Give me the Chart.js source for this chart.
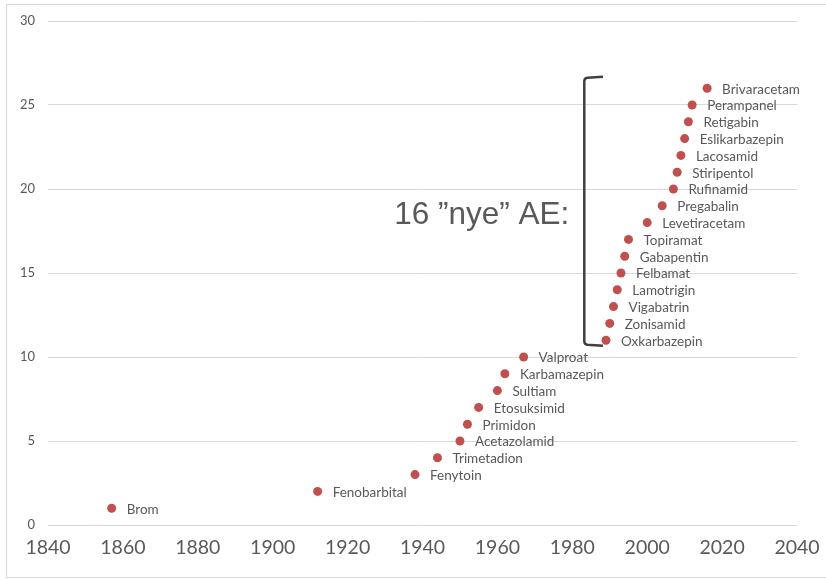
<!DOCTYPE html>
<html>
<head>
<meta charset="utf-8">
<script src="https://cdn.jsdelivr.net/npm/chart.js@4/dist/chart.umd.min.js"></script>
<style>
  html, body { margin: 0; padding: 0; background: #ffffff; }
  #wrap { width: 826px; height: 581px; }
</style>
</head>
<body>
<div id="wrap"><canvas id="c" width="826" height="581"></canvas></div>
<script>
// Antiepileptic drugs by year of introduction
const drugs = ["Brom", "Fenobarbital", "Fenytoin", "Trimetadion", "Acetazolamid", "Primidon",
  "Etosuksimid", "Sultiam", "Karbamazepin", "Valproat", "Oxkarbazepin", "Zonisamid",
  "Vigabatrin", "Lamotrigin", "Felbamat", "Gabapentin", "Topiramat", "Levetiracetam",
  "Pregabalin", "Rufinamid", "Stiripentol", "Lacosamid", "Eslikarbazepin", "Retigabin",
  "Perampanel", "Brivaracetam"];
const years = [1857, 1912, 1938, 1944, 1950, 1952, 1955, 1960, 1962, 1967, 1989, 1990,
  1991, 1992, 1993, 1994, 1995, 2000, 2004, 2007, 2008, 2009, 2010, 2011, 2012, 2016];
const counts = [1, 2, 3, 4, 5, 6, 7, 8, 9, 10, 11, 12, 13, 14, 15, 16, 17, 18, 19, 20,
  21, 22, 23, 24, 25, 26];
const xTicks = [1840, 1860, 1880, 1900, 1920, 1940, 1960, 1980, 2000, 2020, 2040];
const yTicks = [0, 5, 10, 15, 20, 25, 30];

// Bracket around the newer drugs, and its caption
const groupCaption = "16 \u201Dnye\u201D AE:";
const bracket = { x: 1983.2, xEnd: 1988.2, yTop: 26.65, yBottom: 10.7 };
const captionAt = { x: 1955.8, y: 18.45 };

const textColor = "#595959";
const pointColor = "#C0504D";

const frame = {
  id: "frame",
  beforeDraw(chart) {
    const ctx = chart.ctx;
    ctx.save();
    ctx.fillStyle = "#ffffff";
    ctx.fillRect(0, 0, chart.width, chart.height);
    ctx.strokeStyle = "#d9d9d9";
    ctx.lineWidth = 1;
    ctx.strokeRect(6.5, 4.5, 840, 573);
    ctx.restore();
  }
};

const pointNames = {
  id: "pointNames",
  afterDatasetsDraw(chart) {
    const ctx = chart.ctx;
    const meta = chart.getDatasetMeta(0);
    ctx.save();
    ctx.font = "13.5px Lato";
    ctx.fillStyle = textColor;
    ctx.textAlign = "left";
    ctx.textBaseline = "middle";
    meta.data.forEach((el, i) => {
      ctx.fillText(drugs[i], el.x + 15, el.y + 1);
    });
    ctx.restore();
  }
};

const groupBracket = {
  id: "groupBracket",
  afterDatasetsDraw(chart) {
    const xs = chart.scales.x, ys = chart.scales.y;
    const ctx = chart.ctx;
    const x0 = xs.getPixelForValue(bracket.x);
    const x1 = xs.getPixelForValue(bracket.xEnd);
    const y0 = ys.getPixelForValue(bracket.yTop);
    const y1 = ys.getPixelForValue(bracket.yBottom);
    ctx.save();
    ctx.strokeStyle = "#404040";
    ctx.lineWidth = 2.5;
    ctx.lineJoin = "round";
    ctx.beginPath();
    ctx.moveTo(x1, y0 - 0.5);
    ctx.lineTo(x0 + 3, y0 + 0.5);
    ctx.quadraticCurveTo(x0, y0 + 1, x0, y0 + 4);
    ctx.lineTo(x0, y1 - 4);
    ctx.quadraticCurveTo(x0, y1 - 1, x0 + 3, y1 - 0.5);
    ctx.lineTo(x1, y1 + 0.5);
    ctx.stroke();

    ctx.font = "31.5px 'Liberation Sans'";
    ctx.fillStyle = textColor;
    ctx.textAlign = "center";
    ctx.textBaseline = "middle";
    ctx.fillText(groupCaption, xs.getPixelForValue(captionAt.x), ys.getPixelForValue(captionAt.y));
    ctx.restore();
  }
};

new Chart(document.getElementById("c"), {
  type: "scatter",
  data: {
    datasets: [{
      data: years.map((y, i) => ({ x: y, y: counts[i] })),
      backgroundColor: pointColor,
      borderColor: pointColor,
      pointRadius: 4.5,
      pointHoverRadius: 4.5,
      borderWidth: 0
    }]
  },
  options: {
    responsive: false,
    animation: false,
    devicePixelRatio: 1,
    layout: { padding: { top: 21, right: 29, left: 0, bottom: 0 } },
    plugins: { legend: { display: false }, tooltip: { enabled: false } },
    scales: {
      x: {
        type: "linear",
        min: xTicks[0],
        max: xTicks[xTicks.length - 1],
        afterBuildTicks(axis) { axis.ticks = xTicks.map(v => ({ value: v })); },
        afterFit(axis) { axis.height = 56; axis.paddingLeft = 0; axis.paddingRight = 0; },
        grid: { display: false, drawTicks: false },
        border: { display: false },
        ticks: {
          color: textColor,
          font: { family: "Lato", size: 19.5 },
          padding: 11,
          maxRotation: 0,
          autoSkip: false,
          callback: v => String(v)
        }
      },
      y: {
        type: "linear",
        min: yTicks[0],
        max: yTicks[yTicks.length - 1],
        afterBuildTicks(axis) { axis.ticks = yTicks.map(v => ({ value: v })); },
        afterFit(axis) { axis.width = 48; axis.paddingTop = 0; axis.paddingBottom = 0; },
        grid: { color: "#d9d9d9", lineWidth: 1, drawTicks: false },
        border: { display: false },
        ticks: {
          color: textColor,
          font: { family: "Lato", size: 13 },
          padding: 13,
          callback: v => String(v)
        }
      }
    }
  },
  plugins: [frame, pointNames, groupBracket]
});
</script>
</body>
</html>
